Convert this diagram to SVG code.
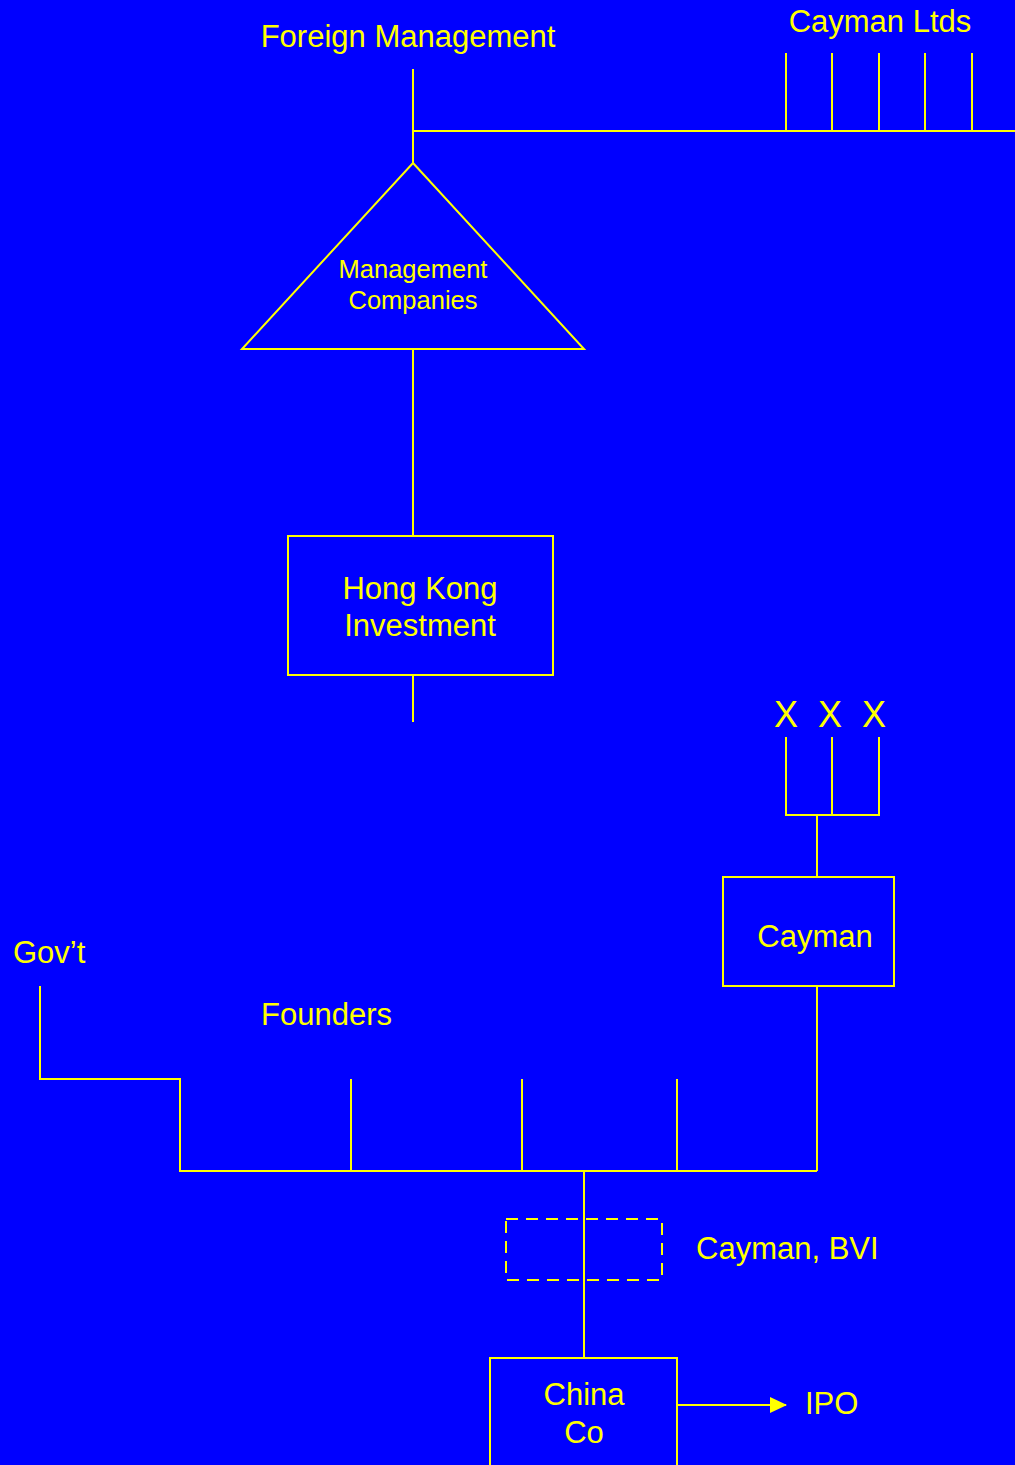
<svg xmlns="http://www.w3.org/2000/svg" width="1015" height="1465" viewBox="0 0 1015 1465">
<defs>
<style>
.ln{stroke:#FFFF00;stroke-width:2;fill:none}
.bx{stroke:#FFFF00;stroke-width:2;fill:#0000FF}
.t{fill:#FFFF00;font-family:"Liberation Sans",Arial,sans-serif;font-size:31px}
.m{text-anchor:middle}
</style>
<marker id="ah" markerWidth="17" markerHeight="16" refX="16" refY="8" orient="auto" markerUnits="userSpaceOnUse">
<path d="M0,0 L17,8 L0,16 Z" fill="#FFFF00"/>
</marker>
</defs>
<rect x="0" y="0" width="1015" height="1465" fill="#0000FF"/>
<g id="connectors">
<path class="ln" d="M413,69 V163"/>
<path class="ln" d="M413,131 H1015"/>
<path class="ln" d="M786,53 V131 M832,53 V131 M879,53 V131 M925,53 V131 M972,53 V131"/>
<path class="ln" d="M413,349 V536"/>
<path class="ln" d="M413,675 V722"/>
<path class="ln" d="M786,737 V815 H879 V737 M832,737 V815 M817,815 V877"/>
<path class="ln" d="M817,986 V1171"/>
<path class="ln" d="M40,986 V1079 H180 V1171 H817"/>
<path class="ln" d="M351,1079 V1171 M522,1079 V1171 M677,1079 V1171"/>
<path class="ln" d="M584,1171 V1358"/>
<path class="ln" d="M677,1405 H786" marker-end="url(#ah)"/>
</g>
<g id="foreign-management"><text class="t m" x="408" y="47">Foreign Management</text></g>
<g id="cayman-ltds"><text class="t m" x="880" y="32">Cayman Ltds</text></g>
<g id="management-companies">
<polygon class="bx" points="413,163 584,349 242,349"/>
<text class="t m" x="413" y="278" style="font-size:25.5px">Management</text>
<text class="t m" x="413" y="309" style="font-size:25.5px">Companies</text>
</g>
<g id="hong-kong-investment">
<rect class="bx" x="288" y="536" width="265" height="139"/>
<text class="t m" x="420" y="599">Hong Kong</text>
<text class="t m" x="420" y="636">Investment</text>
</g>
<g id="xxx">
<text class="t m" x="786" y="727" style="font-size:36px">X</text>
<text class="t m" x="830" y="727" style="font-size:36px">X</text>
<text class="t m" x="874" y="727" style="font-size:36px">X</text>
</g>
<g id="cayman">
<rect class="bx" x="723" y="877" width="171" height="109"/>
<text class="t m" x="815" y="947">Cayman</text>
</g>
<g id="govt"><text class="t" x="13" y="963">Gov’t</text></g>
<g id="founders"><text class="t" x="261" y="1025">Founders</text></g>
<g id="cayman-bvi">
<rect class="ln" x="506" y="1219" width="156" height="61" stroke-dasharray="12,8"/>
<text class="t" x="696" y="1259">Cayman, BVI</text>
</g>
<g id="china-co">
<rect class="bx" x="490" y="1358" width="187" height="120"/>
<text class="t m" x="584" y="1405">China</text>
<text class="t m" x="584" y="1443">Co</text>
</g>
<g id="ipo"><text class="t" x="805" y="1414">IPO</text></g>
</svg>
